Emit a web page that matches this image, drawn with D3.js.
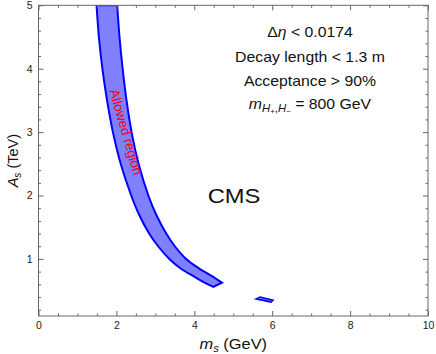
<!DOCTYPE html>
<html>
<head>
<meta charset="utf-8">
<script src="https://d3js.org/d3.v7.min.js"></script>
<style>
  body { margin: 0; background: #fff; }
  svg { font-family: "Liberation Sans", Arial, sans-serif; }
</style>
</head>
<body>
<svg id="plot" width="436" height="354"></svg>
<script>
// data (m_s in GeV, A_s in TeV)
const outerEdge = [[1.49,5.0],[1.55,4.5],[1.64,4.0],[1.76,3.5],[1.91,3.0],[2.11,2.5],[2.38,2.0],[2.58,1.7],[2.84,1.4],[3.07,1.2],[3.36,1.0],[3.65,0.85],[4.00,0.72],[4.25,0.63],[4.49,0.56]];
const innerEdge = [[2.02,5.0],[2.08,4.5],[2.16,4.0],[2.26,3.5],[2.39,3.0],[2.57,2.5],[2.82,2.0],[3.02,1.7],[3.28,1.4],[3.50,1.2],[3.79,1.0],[4.10,0.86],[4.42,0.74],[4.71,0.625]];
const islet = [[5.59,0.37],[5.69,0.40],[6.02,0.35],[5.97,0.32]];

const xTicks = [0,2,4,6,8,10];
const yTicks = [1,2,3,4,5];
const xMinor = d3.range(0.5,10,0.5).filter(v => v % 2 !== 0);
const yMinor = d3.range(2,50,2).map(v => v/10).filter(v => Math.abs(v - Math.round(v)) > 0.01);

const notes = ["Decay length < 1.3 m", "Acceptance > 90%"];

const mLeft = 38.5, mRight = 428, mTop = 5.3, mBottom = 316;
const stretch = 1.13; // text in the picture is a little wider than tall

const svg = d3.select("#plot");

const x = d3.scaleLinear().domain([0,10]).range([mLeft,mRight]);
const y = d3.scaleLinear().domain([0.1,5]).range([mBottom,mTop]);

svg.append("defs").append("clipPath").attr("id","clip")
  .append("rect").attr("x",mLeft).attr("y",mTop)
  .attr("width",mRight-mLeft).attr("height",mBottom-mTop);

// band
const line = d3.line()
  .x(d => x(d[0]))
  .y(d => y(d[1]))
  .curve(d3.curveCatmullRom);

const bandPath = line(outerEdge) + line(innerEdge.slice().reverse()).replace(/^M/,"L") + "Z";

const g = svg.append("g").attr("clip-path","url(#clip)");
g.append("path")
  .attr("d", bandPath)
  .attr("fill","#8080ff")
  .attr("stroke","#0000ff")
  .attr("stroke-width",2)
  .attr("stroke-linejoin","miter");

g.append("path")
  .attr("d", d3.line().x(d => x(d[0])).y(d => y(d[1]))(islet) + "Z")
  .attr("fill","#8080ff")
  .attr("stroke","#0000ff")
  .attr("stroke-width",1.6);

// axes, ticks inward on all sides
function ticks(axis, pos, values, size, labels) {
  const a = axis.tickValues(values).tickSizeInner(-size).tickSizeOuter(0)
    .tickPadding(labels ? 6 : 0)
    .tickFormat(labels ? d3.format("d") : "");
  const sel = svg.append("g").attr("transform", pos).call(a);
  sel.select(".domain").remove();
  sel.selectAll("line").attr("stroke","#666");
  sel.selectAll("text").attr("font-size",10.5).attr("fill","#222")
     .attr("font-family","Liberation Sans, Arial, sans-serif");
  return sel;
}
ticks(d3.axisBottom(x), `translate(0,${mBottom})`, xTicks, 5, true);
ticks(d3.axisBottom(x), `translate(0,${mBottom})`, xMinor, 2.5, false);
ticks(d3.axisTop(x), `translate(0,${mTop})`, xTicks, 5, false);
ticks(d3.axisTop(x), `translate(0,${mTop})`, xMinor, 2.5, false);
ticks(d3.axisLeft(y), `translate(${mLeft},0)`, yTicks, 5, true);
ticks(d3.axisLeft(y), `translate(${mLeft},0)`, yMinor, 2.5, false);
ticks(d3.axisRight(y), `translate(${mRight},0)`, yTicks, 5, false);
ticks(d3.axisRight(y), `translate(${mRight},0)`, yMinor, 2.5, false);

svg.append("rect")
  .attr("x",mLeft).attr("y",mTop)
  .attr("width",mRight-mLeft).attr("height",mBottom-mTop)
  .attr("fill","none").attr("stroke","#666").attr("stroke-width",1);

// text placed at (px,py), stretched horizontally
function label(px, py, size) {
  return svg.append("text")
    .attr("transform", `translate(${px},${py}) scale(${stretch},1)`)
    .attr("text-anchor","middle").attr("font-size",size).attr("fill","#111");
}

// axis titles
const xt = label((mLeft+mRight)/2, 349, 14.5);
xt.append("tspan").attr("font-style","italic").text("m");
xt.append("tspan").attr("font-size",10).attr("font-style","italic").attr("dy",3).text("s");
xt.append("tspan").attr("dy",-3).text(" (GeV)");

const yt = svg.append("text")
  .attr("transform",`translate(18,${(mTop+mBottom)/2}) rotate(-90)`)
  .attr("text-anchor","middle").attr("font-size",14.5).attr("fill","#111");
yt.append("tspan").attr("font-style","italic").text("A");
yt.append("tspan").attr("font-size",10).attr("font-style","italic").attr("dy",3).text("s");
yt.append("tspan").attr("dy",-3).text(" (TeV)");

// annotations
const cx = 310;
const t1 = label(cx, 37, 14);
t1.append("tspan").text("Δ");
t1.append("tspan").attr("font-style","italic").text("η");
t1.append("tspan").text(" < 0.0174");

notes.forEach((s,i) => label(cx, 62 + i*24, 14).text(s));

const t4 = label(cx, 109, 14);
t4.append("tspan").attr("font-style","italic").text("m");
t4.append("tspan").attr("font-size",10).attr("font-style","italic").attr("dy",3).text("H");
t4.append("tspan").attr("font-size",7).attr("dy",2).text("+");
t4.append("tspan").attr("font-size",10).attr("dy",-2).text(",");
t4.append("tspan").attr("font-size",10).attr("font-style","italic").text("H");
t4.append("tspan").attr("font-size",7).attr("dy",2).text("−");
t4.append("tspan").attr("dy",-5).text(" = 800 GeV");

label(234, 203, 21).text("CMS");

svg.append("text")
  .attr("transform",`translate(${x(2.25)},${y(3.0)}) rotate(74)`)
  .attr("text-anchor","middle").attr("dy","0.35em")
  .attr("font-size",13.5).attr("fill","#ff0000")
  .text("Allowed region");
</script>
</body>
</html>
